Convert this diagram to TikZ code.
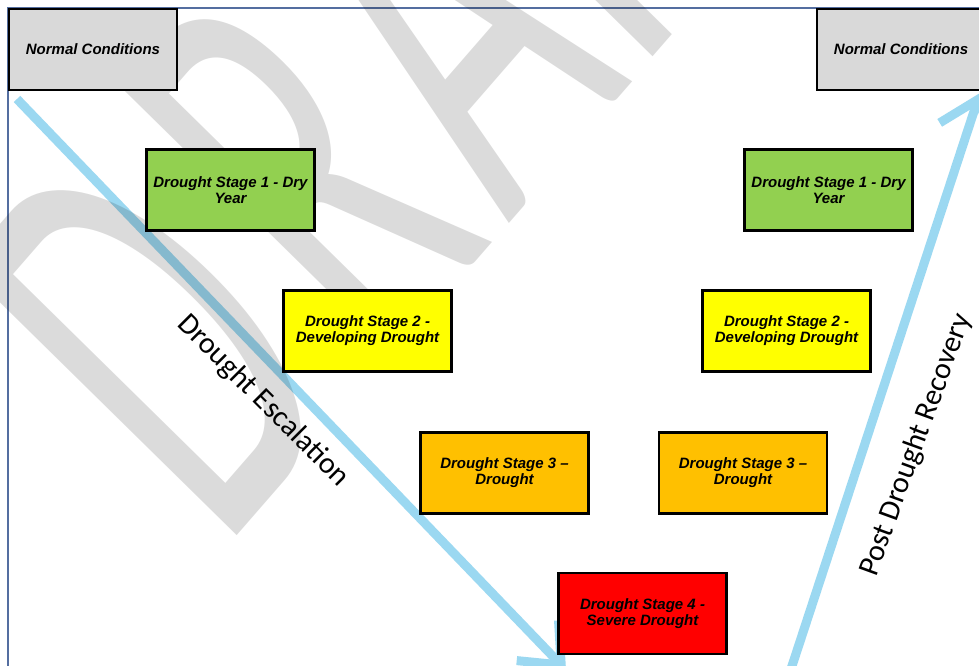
\documentclass[tikz,border=0pt]{standalone}
\usepackage{fontspec}
\setmainfont{Liberation Sans}
\newfontfamily\labelfont{Carlito}
\usetikzlibrary{arrows.meta}
\definecolor{framebl}{RGB}{84,110,160}
\definecolor{flowbl}{RGB}{155,216,241}
\definecolor{ncgrey}{RGB}{217,217,217}
\definecolor{drygreen}{RGB}{146,208,80}
\definecolor{devyellow}{RGB}{255,255,0}
\definecolor{drtorange}{RGB}{255,192,0}
\definecolor{sevred}{RGB}{255,0,0}

\begin{document}
\begin{tikzpicture}[x=1pt, y=-1pt,
    stage/.style={draw=black, line width=2.6pt, minimum width=\boxw pt, minimum height=\boxh pt,
      inner sep=0pt, align=center, font=\bfseries\itshape\fontsize{15}{16}\selectfont},
    flow/.style={flowbl, line width=9pt, -{Straight Barb[length=34pt, width=58pt]}},
    side/.style={font=\labelfont\fontsize{30}{30}\selectfont},
    watermark/.style={font=\labelfont\fontsize{598}{598}\selectfont, text=black, text opacity=0.14, inner sep=0pt}]
    \newcommand*{\boxw}{168}
    \newcommand*{\boxh}{81}
    \useasboundingbox (0,0) rectangle (979,665);
    \clip (0,0) rectangle (979,665);
    \fill[white] (0,0) rectangle (979,665);
    % frame
    \draw[framebl, line width=1.6pt] (8,700) -- (8,8) -- (1000,8);
    % escalation and recovery
    \coordinate (escStart) at (17,99);
    \coordinate (escEnd) at (566,670);
    \coordinate (recStart) at (790,672);
    \coordinate (recEnd) at (980,93);
    \draw[flow] (escStart) -- (escEnd);
    \draw[flow] (recStart) -- (recEnd);
    % watermark
    \node[watermark, anchor=base west, cm={0.361,0.415,-0.713,0.701,(0,0)}] (wm) at (222,553)
      {D\kern65pt R\kern35pt A\kern16pt FT};
    % stages
    \node[stage, fill=ncgrey] (ncL) at (93,49.5) {Normal Conditions};
    \node[stage, fill=ncgrey] (ncR) at (901,49.5) {Normal Conditions};
    \node[stage, fill=drygreen] (dryL) at (230.5,190) {Drought Stage 1 - Dry\\Year};
    \node[stage, fill=drygreen] (dryR) at (828.5,190) {Drought Stage 1 - Dry\\Year};
    \node[stage, fill=devyellow] (devL) at (367.5,331) {Drought Stage 2 -\\Developing Drought};
    \node[stage, fill=devyellow] (devR) at (786.5,331) {Drought Stage 2 -\\Developing Drought};
    \node[stage, fill=drtorange] (drtL) at (504.5,473) {Drought Stage 3 --\\Drought};
    \node[stage, fill=drtorange] (drtR) at (743,473) {Drought Stage 3 --\\Drought};
    \node[stage, fill=sevred] (sev) at (642.5,613.5) {Drought Stage 4 -\\Severe Drought};
    % labels
    \node[side, rotate=-45] (escLabel) at (263,401) {Drought Escalation};
    \node[side, rotate=70] (recLabel) at (916,445) {Post Drought Recovery};
\end{tikzpicture}
\end{document}
